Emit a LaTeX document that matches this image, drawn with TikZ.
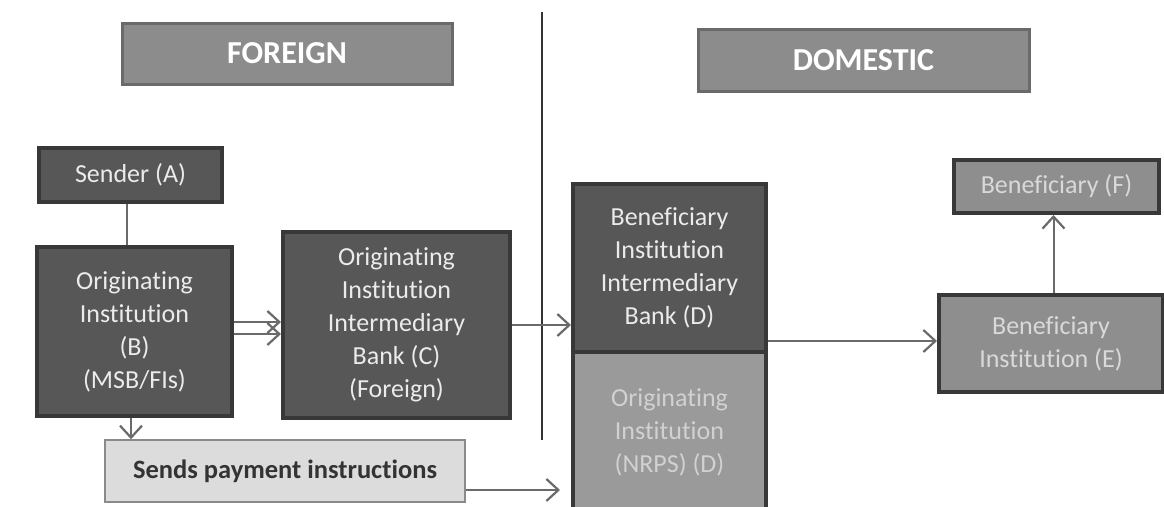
\documentclass[tikz,border=0pt]{standalone}
\usepackage{fontspec}
\setmainfont{Carlito}[Ligatures={NoCommon,NoRare,NoContextual}]
\usetikzlibrary{arrows.meta}
\definecolor{darkfill}{HTML}{575757}
\definecolor{darkedge}{HTML}{383838}
\definecolor{midfill}{HTML}{8E8E8E}
\definecolor{lowfill}{HTML}{9A9A9A}
\definecolor{hdrfill}{HTML}{8C8C8C}
\definecolor{hdredge}{HTML}{6A6A6A}
\definecolor{lightfill}{HTML}{DCDCDC}
\definecolor{lightedge}{HTML}{8A8A8A}
\definecolor{conn}{HTML}{6A6A6A}
\begin{document}
\begin{tikzpicture}[x=1pt,y=-1pt,
  base/.style={rectangle, align=center, inner sep=0pt, font=\fontsize{26}{33}\selectfont},
  darkbox/.style={base, fill=darkfill, draw=darkedge, line width=4pt, text=white!92!black},
  midbox/.style={base, fill=midfill, draw=darkedge, line width=4pt, text=white!85!black},
  lowbox/.style={base, fill=lowfill, draw=darkedge, line width=4pt, text=white!82!black},
  hdrbox/.style={base, fill=hdrfill, draw=hdredge, line width=3pt, text=white, font=\fontsize{32}{38}\selectfont\bfseries},
  lightbox/.style={base, fill=lightfill, draw=lightedge, line width=1.5pt, text=black!80, font=\fontsize{26.5}{32}\selectfont\bfseries},
  arr/.style={draw=conn, line width=2pt, -{Straight Barb[length=12pt,width=22pt,line width=2.2pt]}},
  plain/.style={draw=conn, line width=2pt},
  divider/.style={draw=black!80, line width=2pt}]
\clip (0,0) rectangle (1164,506);
\fill[white] (0,0) rectangle (1164,506);

\node[hdrbox, minimum width=330pt, minimum height=61pt] (foreign) at (287,53.5) {FOREIGN};
\node[hdrbox, minimum width=331pt, minimum height=62pt] (domestic) at (863.5,60) {DOMESTIC};

\coordinate (divtop) at (542,12);
\coordinate (divbot) at (542,440);
\draw[divider] (divtop) -- (divbot);

\node[darkbox, minimum width=183pt, minimum height=54pt] (A) at (130.5,175) {Sender (A)};
\node[darkbox, minimum width=195pt, minimum height=169pt] (B) at (134.5,331.5) {Originating\\Institution\\(B)\\(MSB/FIs)};
\node[darkbox, minimum width=227pt, minimum height=186pt] (C) at (396.5,325) {Originating\\Institution\\Intermediary\\Bank (C)\\(Foreign)};
\node[lowbox, minimum width=193pt, minimum height=160pt] (Dlow) at (669.5,432) {Originating\\Institution\\(NRPS) (D)};
\node[darkbox, minimum width=193pt, minimum height=168pt] (Dup) at (669.5,268) {Beneficiary\\Institution\\Intermediary\\Bank (D)};
\node[midbox, minimum width=205pt, minimum height=53pt] (F) at (1056.5,186.5) {Beneficiary (F)};
\node[midbox, minimum width=224pt, minimum height=97pt] (E) at (1051,343.5) {Beneficiary\\Institution (E)};
\node[lightbox, minimum width=360pt, minimum height=62pt] (S) at (285,471) {Sends payment instructions};

\draw[plain] ([xshift=-3.5pt]A.south) -- ([xshift=-3.5pt]A.south |- B.north);
\draw[arr] ([xshift=-3.5pt]B.south) -- ([xshift=-3.5pt]B.south |- S.north);
\draw[arr] ([yshift=-2.5pt]B.east) -- ([yshift=-2.5pt]B.east -| C.west);
\draw[arr] ([yshift=9.5pt]B.east) -- ([yshift=9.5pt]B.east -| C.west);
\draw[arr] (C.east) -- (C.east -| Dup.west);
\draw[arr] ([yshift=-73pt]Dup.east) -- ([yshift=-73pt]Dup.east -| E.west);
\draw[arr] ([xshift=2.5pt]E.north) -- ([xshift=2.5pt]E.north |- F.south);
\coordinate (sEnd) at ([yshift=-19pt,xshift=-11pt]S.east -| Dlow.west);
\draw[arr] ([yshift=-19pt]S.east) -- (sEnd);
\end{tikzpicture}
\end{document}
